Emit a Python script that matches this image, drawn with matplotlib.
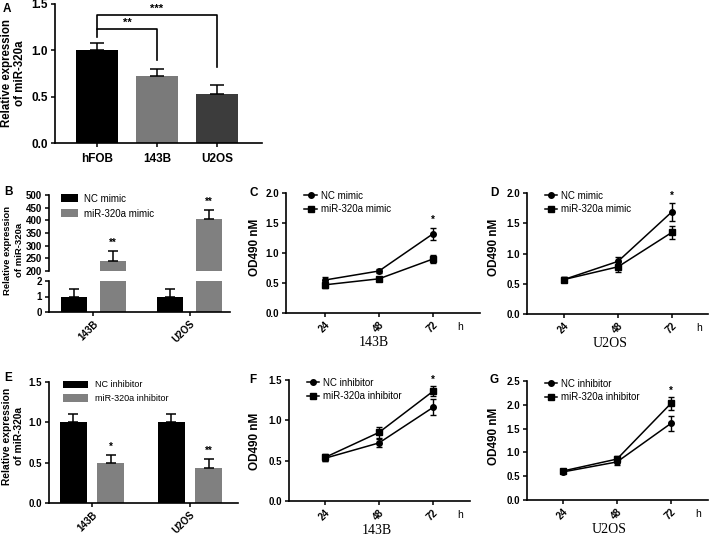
import matplotlib
matplotlib.use("Agg")
import matplotlib.pyplot as plt
import matplotlib.transforms as mtrans
import numpy as np

W, H = 709, 538

plt.rcParams["font.family"] = ["Liberation Sans", "DejaVu Sans"]
plt.rcParams["axes.linewidth"] = 1.2

# ---- data -------------------------------------------------------------
a_groups = ["hFOB", "143B", "U2OS"]
a_vals = [1.00, 0.72, 0.53]
a_err = [0.08, 0.08, 0.10]
a_colors = ["#000000", "#7a7a7a", "#3c3c3c"]

cells = ["143B", "U2OS"]
b_nc = [1.0, 1.0]
b_nc_err = [0.5, 0.5]
b_mir = [238, 405]
b_mir_err = [40, 35]
b_sig = ["**", "**"]

e_nc = [1.0, 1.0]
e_nc_err = [0.10, 0.10]
e_inh = [0.50, 0.43]
e_inh_err = [0.10, 0.12]
e_sig = ["*", "**"]

hours = ["24", "48", "72"]
c_nc = [0.55, 0.70, 1.32]
c_nc_err = [0.05, 0.04, 0.10]
c_mir = [0.47, 0.57, 0.90]
c_mir_err = [0.05, 0.03, 0.06]

d_nc = [0.57, 0.87, 1.69]
d_nc_err = [0.04, 0.07, 0.15]
d_mir = [0.57, 0.78, 1.35]
d_mir_err = [0.04, 0.08, 0.11]

f_nc = [0.53, 0.72, 1.16]
f_nc_err = [0.04, 0.05, 0.10]
f_inh = [0.54, 0.85, 1.36]
f_inh_err = [0.04, 0.07, 0.06]

g_nc = [0.59, 0.80, 1.61]
g_nc_err = [0.03, 0.06, 0.16]
g_inh = [0.61, 0.86, 2.03]
g_inh_err = [0.03, 0.06, 0.13]

GRAY = "#808080"


def add_ax(fig, x0, x1, y0, y1):
    # pixel box -> figure fraction
    return fig.add_axes([x0 / W, 1 - y1 / H, (x1 - x0) / W, (y1 - y0) / H])


def style(ax, fs=7):
    for s in ("top", "right"):
        ax.spines[s].set_visible(False)
    ax.tick_params(direction="out", length=3, width=1.1, labelsize=fs, pad=2)
    for lab in ax.get_xticklabels() + ax.get_yticklabels():
        lab.set_fontweight("bold")


def ylab(fig, x, y, text, fs, ls=1.2):
    fig.text(x / W, 1 - y / H, text, rotation=90, ha="center", va="center",
             fontsize=fs, fontweight="bold", linespacing=ls)


def letter(fig, x, y, s):
    fig.text(x / W, 1 - y / H, s, ha="left", va="center", fontsize=8.5,
             fontweight="bold")


def bar_err(ax, x, y, err, cap=3.5):
    # SD above the bar only
    ax.errorbar(x, y, yerr=[[0] * len(err), err], fmt="none", ecolor="black",
                elinewidth=1.1, capsize=cap, capthick=1.1)


fig = plt.figure(figsize=(W / 100, H / 100), dpi=100)

# ---- A ----------------------------------------------------------------
ax = add_ax(fig, 55, 262, 4, 143)
x = np.arange(len(a_groups))
ax.bar(x, a_vals, width=0.7, color=a_colors)
bar_err(ax, x, a_vals, a_err, cap=5)
ax.set_xlim(-0.7, 2.75)
ax.set_ylim(0, 1.5)
ax.set_yticks([0, 0.5, 1.0, 1.5])
ax.set_yticklabels(["0.0", "0.5", "1.0", "1.5"])
ax.set_xticks(x)
ax.set_xticklabels(a_groups)
style(ax, 8.5)
ax.tick_params(axis="x", pad=4)
ax.plot([0, 0, 1, 1], [1.14, 1.23, 1.23, 0.90], color="black", lw=1.2, clip_on=False)
ax.plot([0, 0, 2, 2], [1.23, 1.38, 1.38, 0.82], color="black", lw=1.2, clip_on=False)
ax.text(0.5, 1.24, "**", ha="center", va="bottom", fontsize=8, fontweight="bold")
ax.text(1.0, 1.39, "***", ha="center", va="bottom", fontsize=8, fontweight="bold")
ylab(fig, 13.5, 73, "Relative expression\nof miR-320a", 8.3, 1.1)
letter(fig, 3, 9, "A")

# ---- B (broken axis) --------------------------------------------------
xb = np.arange(len(cells))
off, bw = 0.2, 0.27
top = add_ax(fig, 49, 230, 195, 271)
bot = add_ax(fig, 49, 230, 281, 312)
for a_ in (top, bot):
    a_.bar(xb - off, b_nc, width=bw, color="black", label="NC mimic")
    a_.bar(xb + off, b_mir, width=bw, color=GRAY, label="miR-320a mimic")
    a_.set_xlim(-0.46, 1.42)
bar_err(top, xb + off, b_mir, b_mir_err)
bar_err(bot, xb - off, b_nc, b_nc_err)
for xi, v, e, s in zip(xb + off, b_mir, b_mir_err, b_sig):
    top.text(xi, v + e + 12, s, ha="center", va="bottom", fontsize=7, fontweight="bold")
top.set_ylim(200, 500)
top.set_yticks(np.arange(200, 501, 50))
top.spines["bottom"].set_visible(False)
top.set_xticks([])
bot.set_ylim(0, 2)
bot.set_yticks([0, 1, 2])
bot.set_xticks(xb)
bot.set_xticklabels(cells, rotation=45, ha="right", rotation_mode="anchor")
style(top, 7)
style(bot, 7)
top.legend(loc="upper left", bbox_to_anchor=(0.04, 1.08), frameon=False,
           fontsize=7, handlelength=1.7, handleheight=0.9, handletextpad=0.7,
           labelspacing=0.5, borderpad=0)
ylab(fig, 13.5, 250, "Relative expression\nof miR-320a", 6.8, 1.35)
letter(fig, 4, 192, "B")

# ---- E ----------------------------------------------------------------
ax = add_ax(fig, 49, 238, 382, 503)
ax.bar(xb - 0.19, e_nc, width=0.28, color="black", label="NC inhibitor")
ax.bar(xb + 0.19, e_inh, width=0.28, color=GRAY, label="miR-320a inhibitor")
bar_err(ax, xb - 0.19, e_nc, e_nc_err)
bar_err(ax, xb + 0.19, e_inh, e_inh_err)
for xi, v, e, s in zip(xb + 0.19, e_inh, e_inh_err, e_sig):
    ax.text(xi, v + e + 0.03, s, ha="center", va="bottom", fontsize=7, fontweight="bold")
ax.set_xlim(-0.44, 1.49)
ax.set_ylim(0, 1.5)
ax.set_yticks([0, 0.5, 1.0, 1.5])
ax.set_yticklabels(["0.0", "0.5", "1.0", "1.5"])
ax.set_xticks(xb)
ax.set_xticklabels(cells, rotation=45, ha="right", rotation_mode="anchor")
style(ax, 7)
ax.legend(loc="upper left", bbox_to_anchor=(0.05, 1.05), frameon=False,
          fontsize=6.5, handlelength=2.8, handleheight=0.9, handletextpad=0.7,
          labelspacing=0.5, borderpad=0)
ylab(fig, 13.5, 436, "Relative expression\nof miR-320a", 7.4, 1.25)
letter(fig, 4, 378, "E")


# ---- line panels ------------------------------------------------------
def line_panel(box, tick0, nc, nc_err, tr, tr_err, labels, ymax, xlab, xlab_x,
               star_y, ylab_xy, let, let_xy):
    x0, x1, y0, y1 = box
    ax = add_ax(fig, x0, x1, y0, y1)
    xs = np.arange(len(hours))
    for vals, err, mk, lab in ((nc, nc_err, "o", labels[0]), (tr, tr_err, "s", labels[1])):
        ax.errorbar(xs, vals, yerr=err, fmt="none", ecolor="black",
                    capsize=2.5, elinewidth=1.0, capthick=1.0)
        ax.plot(xs, vals, color="black", lw=1.1, marker=mk, ms=4, label=lab)
    ax.set_xlim((x0 - tick0) / 54, (x1 - tick0) / 54)
    ax.set_ylim(0, ymax)
    yt = np.arange(0, ymax + 0.01, 0.5)
    ax.set_yticks(yt)
    ax.set_yticklabels([f"{v:.1f}" for v in yt])
    ax.set_xticks(xs)
    ax.set_xticklabels(hours, rotation=45, ha="right", rotation_mode="anchor")
    style(ax, 7)
    tr_ = mtrans.blended_transform_factory(ax.transData, ax.transAxes)
    ax.text(2.5, -0.115, "h", transform=tr_, ha="center", va="center", fontsize=7.5)
    ax.text(xlab_x, -0.245, xlab, transform=tr_, ha="center", va="center",
            fontsize=10, family="Liberation Serif")
    ax.text(2, star_y, "*", ha="center", va="center", fontsize=7, fontweight="bold")
    ax.legend(loc="upper left", bbox_to_anchor=(0.07, 1.06), frameon=False,
              fontsize=7, handlelength=1.3, handletextpad=0.4,
              labelspacing=0.35, borderpad=0)
    ylab(fig, ylab_xy[0], ylab_xy[1], "OD490 nM", 8.5)
    letter(fig, let_xy[0], let_xy[1], let)


line_panel((286, 480, 193, 313), 325, c_nc, c_nc_err, c_mir, c_mir_err,
           ["NC mimic", "miR-320a mimic"], 2.0, "143B", 0.9, 1.56,
           (255, 247), "C", (249, 193))
line_panel((527, 708, 193, 314), 564, d_nc, d_nc_err, d_mir, d_mir_err,
           ["NC mimic", "miR-320a mimic"], 2.0, "U2OS", 0.85, 1.96,
           (494, 247), "D", (490, 193))
line_panel((289, 470, 380, 501), 325, f_nc, f_nc_err, f_inh, f_inh_err,
           ["NC inhibitor", "miR-320a inhibitor"], 1.5, "143B", 0.95, 1.5,
           (255, 441), "F", (249, 380))
line_panel((527, 708, 381, 500), 563, g_nc, g_nc_err, g_inh, g_inh_err,
           ["NC inhibitor", "miR-320a inhibitor"], 2.5, "U2OS", 0.85, 2.3,
           (494, 436), "G", (490, 380))

fig.savefig("out.png", dpi=100)
